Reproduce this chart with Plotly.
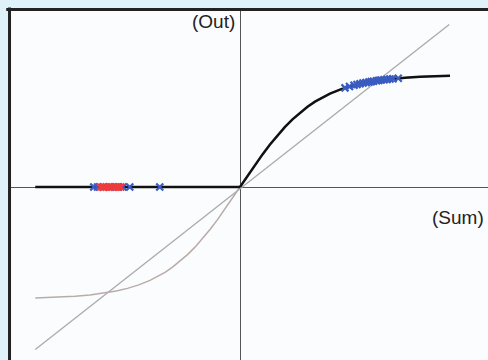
import plotly.graph_objects as go

# Activation curves (Sum -> Out), sampled points
pos_x = [0.0, 0.1, 0.2, 0.3, 0.4, 0.5, 0.6, 0.7, 0.8, 0.9, 1.0, 1.1, 1.2, 1.35, 1.5,
         1.65, 1.8, 2.0, 2.2, 2.4, 2.6, 2.8]
pos_y = [0.0, 0.100, 0.197, 0.291, 0.380, 0.462, 0.537, 0.604, 0.664, 0.716, 0.762,
         0.800, 0.834, 0.874, 0.905, 0.929, 0.947, 0.964, 0.976, 0.984, 0.989, 0.993]
neg_x = [-2.73, -2.6, -2.4, -2.2, -2.0, -1.8, -1.65, -1.5, -1.35, -1.2, -1.1, -1.0,
         -0.9, -0.8, -0.7, -0.6, -0.5, -0.4, -0.3, -0.2, -0.1, 0.0]
neg_y = [-0.992, -0.989, -0.984, -0.976, -0.964, -0.947, -0.929, -0.905, -0.874, -0.834,
         -0.800, -0.762, -0.716, -0.664, -0.604, -0.537, -0.462, -0.380, -0.291, -0.197,
         -0.100, 0.0]
flat_x = [-2.73, 0.0]
flat_y = [0.0, 0.0]

# Linear reference line
lin_x = [-2.73, 2.79]
lin_y = [-1.45, 1.45]

# Samples: inactive (left) and active (right)
blue_left_x = [-1.95, -1.90, -1.82, -1.74, -1.62, -1.56, -1.47, -1.07]
blue_left_y = [0, 0, 0, 0, 0, 0, 0, 0]
red_x = [-1.86, -1.82, -1.78, -1.75, -1.72, -1.68, -1.65, -1.62, -1.59]
red_y = [0, 0, 0, 0, 0, 0, 0, 0, 0]
blue_right_x = [1.40, 1.46, 1.52, 1.56, 1.60, 1.64, 1.68, 1.72, 1.75, 1.78,
                1.82, 1.85, 1.88, 1.92, 1.96, 2.00, 2.04, 2.11]
blue_right_y = [0.885, 0.898, 0.909, 0.916, 0.922, 0.928, 0.933, 0.938, 0.941, 0.945,
                0.949, 0.952, 0.955, 0.958, 0.961, 0.964, 0.967, 0.971]

BLUE = "#3a5cc0"
RED = "#ee3b3b"

fig = go.Figure()

fig.add_trace(go.Scatter(x=lin_x, y=lin_y, mode="lines",
                         line=dict(color="#aaaaaa", width=1.3)))
fig.add_trace(go.Scatter(x=neg_x + pos_x[1:], y=neg_y + pos_y[1:], mode="lines",
                         line=dict(color="#b8aca8", width=1.5)))
fig.add_trace(go.Scatter(x=flat_x, y=flat_y, mode="lines",
                         line=dict(color="#111111", width=2.5)))
fig.add_trace(go.Scatter(x=pos_x, y=pos_y, mode="lines",
                         line=dict(color="#111111", width=2.5)))


def xmarks(color):
    return dict(symbol="x-thin", size=7, color=color, line=dict(width=2.2, color=color))


fig.add_trace(go.Scatter(x=blue_left_x, y=blue_left_y, mode="markers", marker=xmarks(BLUE)))
fig.add_trace(go.Scatter(x=red_x, y=red_y, mode="markers", marker=xmarks(RED)))
fig.add_trace(go.Scatter(x=blue_right_x, y=blue_right_y, mode="markers", marker=xmarks(BLUE)))

ax_common = dict(showgrid=False, showticklabels=False, ticks="", showline=False,
                 zeroline=True, zerolinecolor="#555555", zerolinewidth=1.4)

fig.update_layout(
    width=488, height=360,
    margin=dict(l=11, r=0, t=11, b=0),
    paper_bgcolor="#dff1f9",
    plot_bgcolor="#fbfcfe",
    showlegend=False,
    xaxis=dict(range=[-3.0533, 3.3067], **ax_common),
    yaxis=dict(range=[-1.5446, 1.5714], **ax_common),
    font=dict(family="Liberation Sans, Arial, sans-serif", color="#222222"),
    shapes=[
        # frame on the left and top edges of the plotting area
        dict(type="line", xref="paper", yref="paper", x0=-0.0031, x1=-0.0031, y0=1.01, y1=-0.1,
             line=dict(color="#222222", width=3)),
        dict(type="line", xref="paper", yref="paper", x0=-0.01, x1=1.1, y0=1.0043, y1=1.0043,
             line=dict(color="#222222", width=3)),
    ],
    annotations=[
        dict(text="(Out)", xref="paper", yref="paper", x=0.4738, y=0.9685,
             xanchor="right", yanchor="middle", showarrow=False, font=dict(size=19)),
        dict(text="(Sum)", xref="paper", yref="paper", x=0.9958, y=0.4069,
             xanchor="right", yanchor="middle", showarrow=False, font=dict(size=19)),
    ],
)

fig.write_html("out.html")
